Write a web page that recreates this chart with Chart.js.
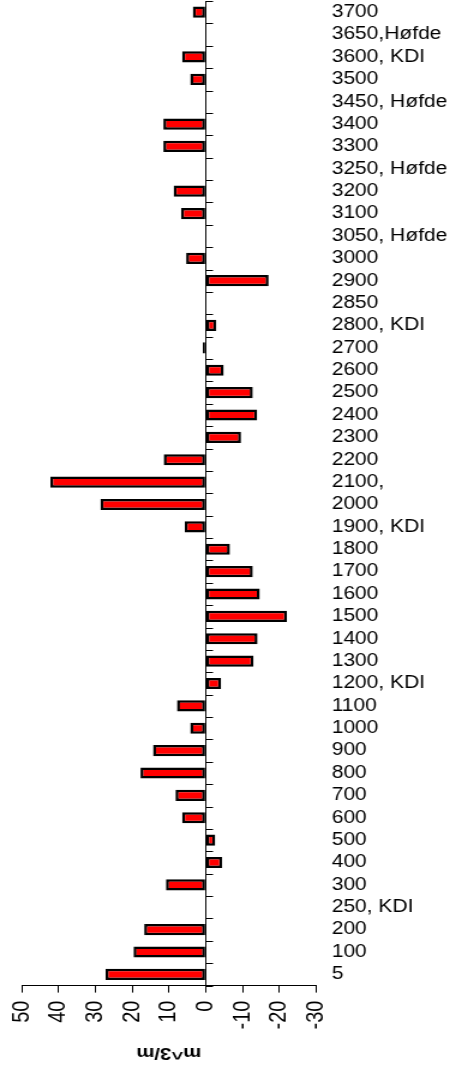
<!DOCTYPE html>
<html lang="en">
<head>
  <meta charset="UTF-8" />
  <title>m3/m per profil</title>
  <script src="https://cdn.jsdelivr.net/npm/chart.js@4.4.0/dist/chart.umd.min.js"></script>
  <style>
    html, body { margin: 0; padding: 0; background: #fff; overflow: hidden; }
    #wrap { width: 452px; height: 1071px; overflow: hidden; }
    /* the reference is stretched sideways, so draw narrow and widen */
    #chart { display: block; transform: scaleX(1.2); transform-origin: 0 0; }
  </style>
</head>
<body>
  <div id="wrap"><canvas id="chart" width="377" height="1071"></canvas></div>

  <script>
    const profiles = ['5', '100', '200', '250, KDI', '300', '400', '500', '600', '700', '800',
      '900', '1000', '1100', '1200, KDI', '1300', '1400', '1500', '1600', '1700', '1800',
      '1900, KDI', '2000', '2100,', '2200', '2300', '2400', '2500', '2600', '2700', '2800, KDI',
      '2850', '2900', '3000', '3050, Høfde', '3100', '3200', '3250, Høfde', '3300', '3400', '3450, Høfde',
      '3500', '3600, KDI', '3650,Høfde', '3700'];

    const volumes = [27.2, 19.6, 16.7, null, 10.8, -4.5, -2.6, 6.4, 8.2, 17.7,
      14.3, 4.2, 7.8, -4.2, -13.0, -14.1, -22.1, -14.7, -12.8, -6.6,
      5.7, 28.6, 42.2, 11.4, -9.6, -14.0, -12.8, -4.9, 0.8, -2.9,
      null, -17.1, 5.3, null, 6.7, 8.7, null, 11.5, 11.5, null,
      4.2, 6.4, null, 3.5];

    const xMin = -30, xMax = 50, xStep = 10;
    const axisTitle = 'm^3/m';

    Chart.defaults.font.family = '"Liberation Sans", Arial, sans-serif';
    Chart.defaults.color = '#000';

    // little ticks between the profiles, sitting on the zero line
    const zeroTicks = {
      id: 'zeroTicks',
      afterDatasetsDraw(chart) {
        const { ctx, scales: { x, y } } = chart;
        const x0 = Math.round(x.getPixelForValue(0)) + 0.5;
        ctx.save();
        ctx.strokeStyle = '#000';
        ctx.lineWidth = 1;
        ctx.beginPath();
        for (let i = 0; i <= profiles.length; i++) {
          const py = Math.round(y.getPixelForValue(i - 0.5)) + 0.5;
          ctx.moveTo(x0, py);
          ctx.lineTo(x0 + 6, py);
        }
        ctx.stroke();
        ctx.restore();
      }
    };

    // axis title is upside down in the reference
    const flippedTitle = {
      id: 'flippedTitle',
      afterDraw(chart) {
        const { ctx, chartArea } = chart;
        ctx.save();
        ctx.translate((chartArea.left + chartArea.right) / 2, chart.height - 18);
        ctx.rotate(Math.PI);
        ctx.font = 'bold 17px "Liberation Sans", Arial, sans-serif';
        ctx.fillStyle = '#000';
        ctx.textAlign = 'center';
        ctx.textBaseline = 'middle';
        ctx.fillText(axisTitle, 0, 0);
        ctx.restore();
      }
    };

    new Chart(document.getElementById('chart'), {
      type: 'bar',
      data: {
        labels: profiles,
        datasets: [{
          data: volumes,
          backgroundColor: '#ff0000',
          borderColor: '#000',
          borderWidth: 2.5,
          borderSkipped: false,
          barPercentage: 0.5,
          categoryPercentage: 1
        }]
      },
      options: {
        indexAxis: 'y',
        responsive: false,
        devicePixelRatio: 1,
        animation: false,
        layout: { padding: { left: 18, right: 0, top: 1, bottom: 33.5 } },
        plugins: {
          legend: { display: false },
          tooltip: { enabled: false }
        },
        scales: {
          x: {
            type: 'linear',
            min: xMin,
            max: xMax,
            reverse: true,
            ticks: {
              stepSize: xStep,
              autoSkip: false,
              minRotation: 90,
              maxRotation: 90,
              padding: 8,
              font: { size: 20 }
            },
            grid: {
              color: c => (c.tick && c.tick.value === 0) ? '#000' : 'rgba(0,0,0,0)',
              tickColor: '#000',
              tickLength: 7,
              lineWidth: 1
            },
            border: { display: true, color: '#000', width: 1 }
          },
          y: {
            type: 'category',
            position: 'right',
            reverse: true,
            offset: true,
            ticks: { autoSkip: false, padding: 13, font: { size: 17.5 } },
            grid: { display: false, drawTicks: false },
            border: { display: false },
            afterFit(scale) {
              scale.width = 113.6;
              scale.paddingTop = 0;
              scale.paddingBottom = 0;
            }
          }
        }
      },
      plugins: [zeroTicks, flippedTitle]
    });
  </script>
</body>
</html>
